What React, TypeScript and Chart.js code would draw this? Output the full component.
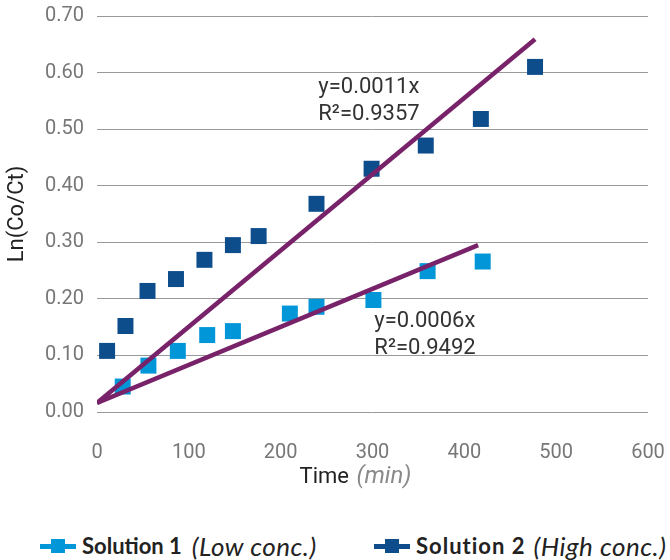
import React, { useEffect, useRef } from "react";
import { Chart, registerables } from "chart.js";

Chart.register(...registerables);

// Solution 1 (Low conc.)
const sol1X = [28, 56, 88, 120, 148, 210, 239, 301, 360, 420];
const sol1Y = [0.045, 0.082, 0.108, 0.136, 0.143, 0.174, 0.186, 0.198, 0.249, 0.266];
// Solution 2 (High conc.)
const sol2X = [11, 31, 55, 86, 117, 148, 176, 239, 299, 358, 418, 477];
const sol2Y = [0.108, 0.152, 0.214, 0.235, 0.269, 0.295, 0.311, 0.368, 0.43, 0.471, 0.518, 0.61];
// Trend lines
const trend1X = [0, 415];
const trend1Y = [0.016, 0.295];
const trend2X = [0, 477];
const trend2Y = [0.016, 0.659];

const xTickValues = [0, 100, 200, 300, 400, 500, 600];
const yTickValues = [0, 0.1, 0.2, 0.3, 0.4, 0.5, 0.6, 0.7];

const eq2Lines = ["y=0.0011x", "R\u00B2=0.9357"];
const eq1Lines = ["y=0.0006x", "R\u00B2=0.9492"];

const LIGHT = "#0096D8";
const DARK = "#0E4D8C";
const PURPLE = "#78226A";

const toPts = (xs: number[], ys: number[]) => xs.map((x, i) => ({ x, y: ys[i] }));

const annotationPlugin = {
  id: "annotations",
  afterDatasetsDraw(chart: any) {
    const { ctx, scales } = chart;
    const xs = scales.x;
    const ys = scales.y;
    ctx.save();
    ctx.fillStyle = "#333333";
    ctx.font = "22px Roboto";
    ctx.textBaseline = "middle";
    ctx.textAlign = "left";
    const draw = (lines: string[], xv: number, yv: number) => {
      const px = xs.getPixelForValue(xv);
      const py = ys.getPixelForValue(yv);
      lines.forEach((l, i) => ctx.fillText(l, px, py + i * 27));
    };
    draw(eq2Lines, 241, 0.574);
    draw(eq1Lines, 302, 0.16);

    // x axis title with mixed styles
    const area = chart.chartArea;
    const cx = (area.left + area.right) / 2 - 18;
    const cy = area.bottom + 65;
    ctx.font = "22px Roboto";
    const part1 = "Time ";
    const w1 = ctx.measureText(part1).width;
    ctx.font = "italic 24px Roboto";
    const part2 = "(min)";
    const w2 = ctx.measureText(part2).width;
    const start = cx - (w1 + w2) / 2;
    ctx.font = "22px Roboto";
    ctx.fillStyle = "#222222";
    ctx.fillText(part1, start, cy);
    ctx.font = "italic 24px Roboto";
    ctx.fillStyle = "#8a8a8a";
    ctx.fillText(part2, start + w1 + 2, cy);
    ctx.restore();
  },
};

function LegendItem({ color, bold, italic, gap, spacing }: { color: string; bold: string; italic: string; gap: number; spacing: number }) {
  return (
    <div style={{ display: "flex", alignItems: "center" }}>
      <div style={{ position: "relative", width: 36, height: 14, marginRight: 6 }}>
        <div style={{ position: "absolute", left: 0, top: 5, width: 36, height: 5, background: color }} />
        <div style={{ position: "absolute", left: 11, top: 0, width: 14, height: 14, background: color }} />
      </div>
      <span style={{ fontFamily: "Lato", fontWeight: 700, fontSize: 22, letterSpacing: spacing, color: "#222", lineHeight: "24px", whiteSpace: "nowrap" }}>{bold}</span>
      <span style={{ fontFamily: "Lato", fontStyle: "italic", fontSize: 26, letterSpacing: 0.5, color: "#222", lineHeight: "24px", marginLeft: gap, whiteSpace: "nowrap" }}>{italic}</span>
    </div>
  );
}

export default function App() {
  const ref = useRef<HTMLCanvasElement | null>(null);

  useEffect(() => {
    if (!ref.current) return;
    const chart = new Chart(ref.current, {
      type: "scatter",
      data: {
        datasets: [
          {
            type: "line",
            label: "trend2",
            data: toPts(trend2X, trend2Y),
            borderColor: PURPLE,
            borderWidth: 4.5,
            pointRadius: 0,
            fill: false,
            order: 0,
          } as any,
          {
            type: "line",
            label: "trend1",
            data: toPts(trend1X, trend1Y),
            borderColor: PURPLE,
            borderWidth: 4.5,
            pointRadius: 0,
            fill: false,
            order: 0,
          } as any,
          {
            label: "Solution 1 (Low conc.)",
            data: toPts(sol1X, sol1Y),
            pointStyle: "rect",
            pointRadius: 11.3,
            backgroundColor: LIGHT,
            borderColor: LIGHT,
            borderWidth: 0,
            order: 1,
          },
          {
            label: "Solution 2 (High conc.)",
            data: toPts(sol2X, sol2Y),
            pointStyle: "rect",
            pointRadius: 11.3,
            backgroundColor: DARK,
            borderColor: DARK,
            borderWidth: 0,
            order: 1,
          },
        ],
      },
      options: {
        responsive: false,
        animation: false,
        events: [],
        layout: { padding: { top: 16, right: 22, left: 0, bottom: 0 } },
        plugins: {
          legend: { display: false },
          tooltip: { enabled: false },
        },
        scales: {
          x: {
            type: "linear",
            min: 0,
            max: 600,
            afterBuildTicks: (scale: any) => {
              scale.ticks = xTickValues.map((v) => ({ value: v }));
            },
            afterFit: (scale: any) => {
              scale.height = 88;
              scale.paddingLeft = 0;
              scale.paddingRight = 0;
            },
            grid: { display: false, drawTicks: false },
            border: { display: false },
            ticks: {
              padding: 29,
              color: "#777777",
              font: { family: "Roboto", size: 20 },
              callback: (v: any) => String(v),
            },
          },
          y: {
            type: "linear",
            min: 0,
            max: 0.7,
            afterBuildTicks: (scale: any) => {
              scale.ticks = yTickValues.map((v) => ({ value: v }));
            },
            afterFit: (scale: any) => {
              scale.width = 97;
              scale.paddingTop = 0;
              scale.paddingBottom = 0;
            },
            grid: { color: "#999999", lineWidth: 1, drawTicks: false },
            border: { display: false },
            ticks: {
              padding: 13,
              color: "#777777",
              font: { family: "Roboto", size: 20 },
              callback: (v: any) => Number(v).toFixed(2),
            },
            title: {
              display: true,
              text: "Ln(Co/Ct)",
              color: "#222222",
              font: { family: "Roboto", size: 22 },
              padding: { top: 4, bottom: 0 },
            },
          },
        },
      },
      plugins: [annotationPlugin],
    });
    return () => chart.destroy();
  }, []);

  return (
    <div style={{ position: "absolute", left: 0, top: 0, width: 670, height: 560, background: "#fff" }}>
      <canvas ref={ref} width={670} height={500} style={{ display: "block" }} />
      <div style={{ position: "absolute", left: 40, top: 534 }}>
        <LegendItem color={LIGHT} bold="Solution 1" italic="(Low conc.)" gap={10} spacing={0} />
      </div>
      <div style={{ position: "absolute", left: 374, top: 534 }}>
        <LegendItem color={DARK} bold="Solution 2" italic="(High conc.)" gap={8} spacing={1} />
      </div>
    </div>
  );
}
